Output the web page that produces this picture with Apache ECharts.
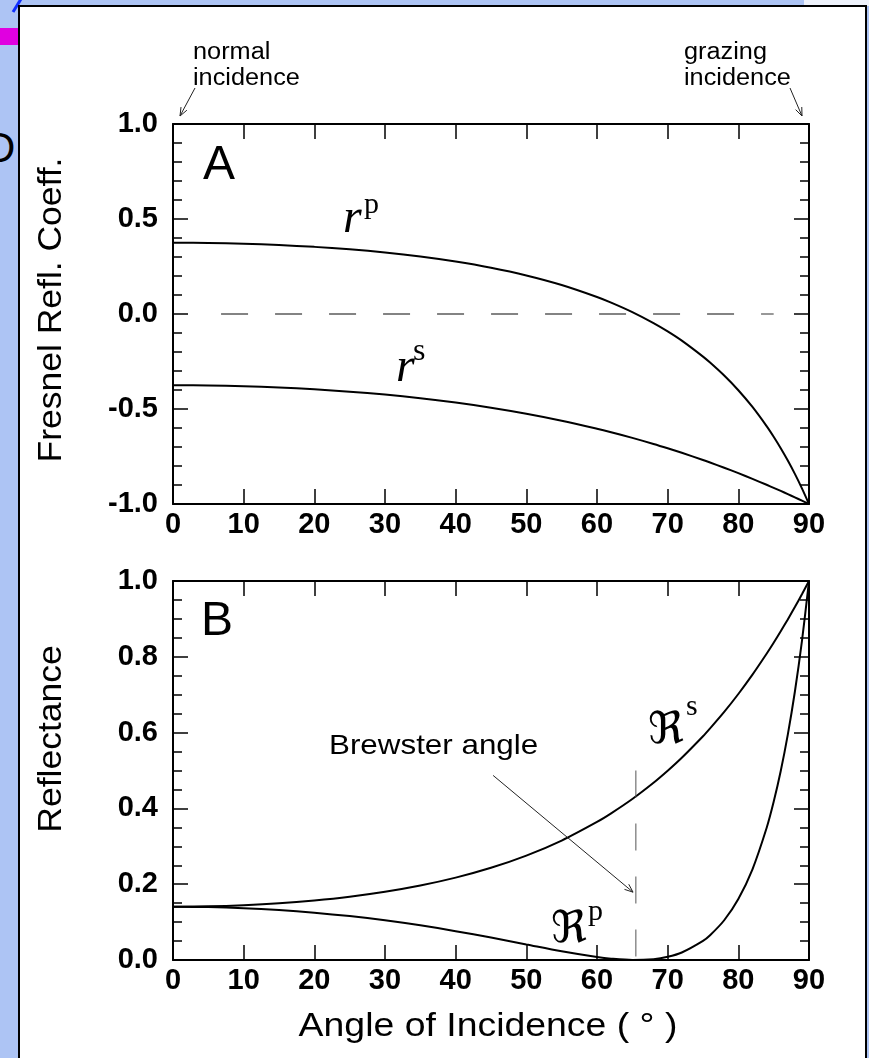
<!DOCTYPE html>
<html>
<head>
<meta charset="utf-8">
<script src="https://cdn.jsdelivr.net/npm/echarts@6/dist/echarts.min.js"></script>
<style>
html,body{margin:0;padding:0;background:#adc4f4;overflow:hidden;}
#strip{position:absolute;left:804px;top:0;width:65px;height:6px;background:#eef2fb;}
#panel{position:absolute;left:18px;top:5px;width:849px;height:1070px;background:#fff;border:2px solid #000;box-sizing:border-box;}
#mag{position:absolute;left:0;top:28px;width:18px;height:17px;background:#e000e0;}
#dch{position:absolute;left:-15px;top:127px;font:42px 'Liberation Sans',Arial,sans-serif;color:#000;line-height:42px;}
#diag{position:absolute;left:0;top:0;}
#c{position:absolute;left:0;top:0;width:869px;height:1058px;}
</style>
</head>
<body>
<div id="strip"></div>
<svg id="diag" width="30" height="16"><line x1="13" y1="12" x2="21" y2="-1" stroke="#1030ff" stroke-width="3"/></svg>
<div id="mag"></div>
<div id="dch">D</div>
<div id="panel"></div>
<div id="c"></div>
<script>
// ---- data ----
const angles = [0,5,10,15,20,25,30,35,40,45,50,55,60,62,65,68,70,72,75,76,78,80,82,84,85,86,87,88,89,90];
const rP = [0.375,0.3737,0.3698,0.3630,0.3533,0.3403,0.3235,0.3023,0.2759,0.2432,0.2027,0.1524,0.0895,0.0600,0.0101,-0.0478,-0.0916,-0.1403,-0.2242,-0.2555,-0.3239,-0.4013,-0.4893,-0.5901,-0.6460,-0.7062,-0.7711,-0.8413,-0.9174,-1];
const rS = [-0.375,-0.3763,-0.3802,-0.3868,-0.3963,-0.4087,-0.4243,-0.4433,-0.4662,-0.4932,-0.5248,-0.5614,-0.6036,-0.6221,-0.6518,-0.6838,-0.7066,-0.7305,-0.7684,-0.7817,-0.8091,-0.8378,-0.8677,-0.8989,-0.9149,-0.9313,-0.9480,-0.9650,-0.9824,-1];
const RS = [0.1406,0.1416,0.1446,0.1496,0.1571,0.1670,0.1800,0.1965,0.2173,0.2432,0.2754,0.3152,0.3643,0.3870,0.4248,0.4676,0.4993,0.5336,0.5904,0.6111,0.6546,0.7019,0.7529,0.8080,0.8370,0.8673,0.8987,0.9312,0.9651,1];
const RP = [0.1406,0.1397,0.1368,0.1318,0.1248,0.1158,0.1047,0.0914,0.0761,0.0591,0.0411,0.0232,0.0080,0.0036,0.0001,0.0023,0.0084,0.0197,0.0503,0.0653,0.1049,0.1610,0.2394,0.3482,0.4173,0.4987,0.5946,0.7078,0.8416,1];
const zeroLineX = [6.8, 85];
const zeroLineY = [0, 0];
const brewsterX = [65.5, 65.5];
const brewsterY = [0.5, 0];
const brewsterArrowFrom = [45.3, 0.487];
const brewsterArrowTo = [65.1, 0.179];

const SANS = "'Liberation Sans', Arial, Helvetica, sans-serif";
const SERIF = "'Liberation Serif', 'Times New Roman', serif";
const FRAK = "'DejaVu Serif', 'DejaVu Sans', serif";

const zip = (xs, ys) => xs.map((x, i) => [x, ys[i]]);

function xAx(grid, pos, labels) {
  return {
    type: 'value', gridIndex: grid, position: pos, min: 0, max: 90, interval: 10,
    axisLine: {show: true, onZero: false, lineStyle: {color: '#000', width: 2}},
    axisTick: {show: true, inside: true, length: 15, lineStyle: {color: '#000', width: 1.5}},
    axisLabel: {show: labels, margin: 6, color: '#000', fontSize: 29, fontWeight: 'bold', fontFamily: SANS},
    splitLine: {show: false}
  };
}
function yAx(grid, pos, labels, min, max, interval, minorSplit) {
  return {
    type: 'value', gridIndex: grid, position: pos, min: min, max: max, interval: interval,
    axisLine: {show: true, onZero: false, lineStyle: {color: '#000', width: 2}},
    axisTick: {show: true, inside: true, length: 15, lineStyle: {color: '#000', width: 1.5}},
    minorTick: {show: true, splitNumber: minorSplit, length: 9, lineStyle: {color: '#000', width: 1.5}},
    axisLabel: {show: labels, margin: 15, color: '#000', fontSize: 29, fontWeight: 'bold', fontFamily: SANS,
      formatter: v => v.toFixed(1)},
    splitLine: {show: false}, minorSplitLine: {show: false}
  };
}
function curve(xi, yi, data, extra) {
  return Object.assign({
    type: 'line', xAxisIndex: xi, yAxisIndex: yi, data: data, smooth: 0.3,
    symbol: 'none', showSymbol: false, silent: true,
    lineStyle: {color: '#000', width: 2}
  }, extra || {});
}

const chart = echarts.init(document.getElementById('c'), null, {renderer: 'canvas'});
chart.setOption({
  animation: false,
  backgroundColor: 'transparent',
  grid: [
    {left: 173, top: 124, width: 636, height: 380, containLabel: false, outerBoundsMode: 'none'},
    {left: 173, top: 581, width: 636, height: 379, containLabel: false, outerBoundsMode: 'none'}
  ],
  xAxis: [xAx(0, 'bottom', true), xAx(0, 'top', false), xAx(1, 'bottom', true), xAx(1, 'top', false)],
  yAxis: [yAx(0, 'left', true, -1, 1, 0.5, 5), yAx(0, 'right', false, -1, 1, 0.5, 5),
          yAx(1, 'left', true, 0, 1, 0.2, 4), yAx(1, 'right', false, 0, 1, 0.2, 4)],
  series: [
    curve(0, 0, zip(angles, rP)),
    curve(0, 0, zip(angles, rS)),
    curve(0, 0, zip(zeroLineX, zeroLineY), {smooth: false, lineStyle: {color: '#333', width: 1.2, type: [27, 27]}}),
    curve(2, 2, zip(angles, RS)),
    curve(2, 2, zip(angles, RP)),
    curve(2, 2, zip(brewsterX, brewsterY), {smooth: false, lineStyle: {color: '#555', width: 1, type: [27, 26]}})
  ]
});

// ---- annotations ----
function T(text, x, baseline, size, opt) {
  opt = opt || {};
  const fam = opt.family || SANS;
  const font = (opt.italic ? 'italic ' : '') + size + 'px ' + fam;
  const align = opt.align || 'left';
  return {
    type: 'text', z: 100, x: x, y: baseline - 0.33 * size,
    scaleX: opt.scaleX || 1, rotation: opt.rotation || 0,
    style: {text: text, font: font, fill: '#000', align: align, verticalAlign: 'middle',
            textAlign: align, textVerticalAlign: 'middle'}
  };
}
function RT(text, cx, cy, size, scale) {
  return {
    type: 'text', z: 100, x: cx, y: cy, rotation: Math.PI / 2, scaleX: scale,
    style: {text: text, font: size + 'px ' + SANS, fill: '#000', align: 'center', verticalAlign: 'middle',
            textAlign: 'center', textVerticalAlign: 'middle'}
  };
}
function arrow(p0, p1, head) {
  const dx = p1[0] - p0[0], dy = p1[1] - p0[1];
  const L = Math.hypot(dx, dy), ux = dx / L, uy = dy / L;
  const a = 0.38, h = head || 9;
  const rot = (ang) => [p1[0] - h * (ux * Math.cos(ang) - uy * Math.sin(ang)),
                        p1[1] - h * (ux * Math.sin(ang) + uy * Math.cos(ang))];
  return [
    {type: 'line', z: 100, shape: {x1: p0[0], y1: p0[1], x2: p1[0], y2: p1[1]}, style: {stroke: '#222', lineWidth: 1}},
    {type: 'polyline', z: 100, shape: {points: [rot(a), p1, rot(-a)]}, style: {stroke: '#222', lineWidth: 1, fill: null}}
  ];
}

const bFrom = chart.convertToPixel({gridIndex: 1}, brewsterArrowFrom);
const bTo = chart.convertToPixel({gridIndex: 1}, brewsterArrowTo);

const g = [
  T('normal', 193, 60, 23, {scaleX: 1.1}),
  T('incidence', 193, 86, 23, {scaleX: 1.1}),
  T('grazing', 684, 60, 23, {scaleX: 1.1}),
  T('incidence', 684, 86, 23, {scaleX: 1.1}),
  T('A', 203, 182, 48),
  T('B', 201, 638, 48),
  T('Brewster angle', 329, 756, 28, {scaleX: 1.12}),
  T('Angle of Incidence ( \u00B0 )', 488, 1038, 34, {scaleX: 1.1, align: 'center'}),
  RT('Fresnel Refl. Coeff.', 52, 310, 33, 1.075),
  RT('Reflectance', 52, 739, 33, 1.075),
  T('r', 343, 235, 48, {family: SERIF, italic: true}),
  T('p', 364, 215, 30, {family: SERIF}),
  T('r', 396, 384, 48, {family: SERIF, italic: true}),
  T('s', 413, 362, 32, {family: SERIF}),
  T('\u211C', 648, 746, 44, {family: FRAK}),
  T('s', 686, 717, 30, {family: SERIF}),
  T('\u211C', 551, 945, 44, {family: FRAK}),
  T('p', 588, 922, 30, {family: SERIF})
].concat(arrow([195, 88], [180, 116]), arrow([790, 88], [802, 116]), arrow(bFrom, bTo));

chart.setOption({graphic: {elements: g}});
</script>
</body>
</html>
